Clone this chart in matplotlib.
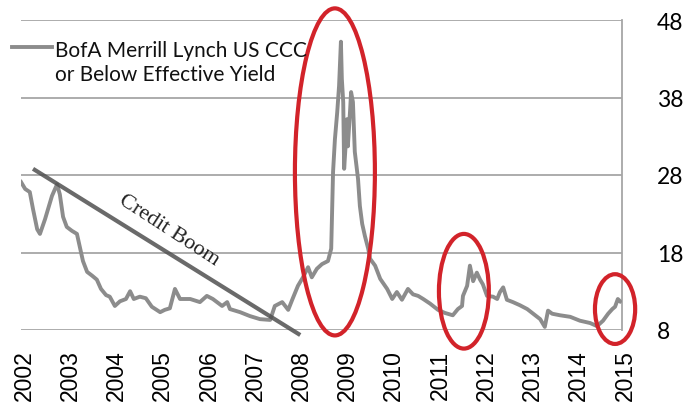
import matplotlib
matplotlib.use("Agg")
import matplotlib.pyplot as plt
from matplotlib.patches import Ellipse
import matplotlib.transforms as mtransforms

# Time (decimal years) and yield values (%)
years = [2002.00, 2002.09, 2002.19, 2002.26, 2002.35, 2002.41, 2002.52, 2002.67, 2002.78, 2002.84,
         2002.91, 2002.99, 2003.10, 2003.21, 2003.28, 2003.34, 2003.43, 2003.54, 2003.64, 2003.73,
         2003.84, 2003.92, 2004.03, 2004.14, 2004.27, 2004.36, 2004.44, 2004.57, 2004.70, 2004.83,
         2005.01, 2005.11, 2005.22, 2005.33, 2005.44, 2005.66, 2005.87, 2006.02, 2006.15, 2006.24,
         2006.35, 2006.46, 2006.52, 2006.74, 2006.95, 2007.17, 2007.39, 2007.49, 2007.65, 2007.78,
         2007.88, 2007.99, 2008.10, 2008.21, 2008.29, 2008.40, 2008.51, 2008.64, 2008.71, 2008.73,
         2008.75, 2008.79, 2008.84, 2008.88, 2008.92, 2008.94, 2008.97, 2008.99, 2009.03, 2009.05,
         2009.07, 2009.12, 2009.14, 2009.18, 2009.22, 2009.29, 2009.33, 2009.38, 2009.44, 2009.51,
         2009.55, 2009.66, 2009.77, 2009.92, 2010.03, 2010.13, 2010.24, 2010.37, 2010.48, 2010.59,
         2010.70, 2010.85, 2011.02, 2011.17, 2011.34, 2011.45, 2011.54, 2011.56, 2011.65, 2011.71,
         2011.78, 2011.86, 2011.93, 2011.99, 2012.08, 2012.21, 2012.30, 2012.36, 2012.43, 2012.51,
         2012.64, 2012.79, 2012.95, 2013.08, 2013.23, 2013.33, 2013.40, 2013.49, 2013.66, 2013.88,
         2014.09, 2014.31, 2014.46, 2014.59, 2014.70, 2014.79, 2014.85, 2014.91, 2014.96]
yields = [27.1, 26.2, 25.8, 23.6, 21.0, 20.4, 22.3, 25.3, 26.8, 25.5,
          22.6, 21.3, 20.8, 20.4, 18.5, 16.9, 15.5, 15.0, 14.5, 13.3,
          12.5, 12.3, 11.1, 11.7, 12.0, 13.0, 12.0, 12.3, 12.1, 11.0,
          10.3, 10.6, 10.8, 13.3, 12.0, 12.0, 11.6, 12.4, 12.0, 11.6,
          11.1, 11.6, 10.7, 10.3, 9.8, 9.4, 9.3, 11.1, 11.6, 10.6,
          12.1, 13.7, 14.8, 16.1, 14.8, 15.9, 16.5, 16.9, 18.5, 23.2,
          28.4, 32.6, 36.1, 39.5, 45.2, 40.4, 37.4, 28.8, 32.6, 35.2,
          31.7, 36.5, 38.7, 37.4, 31.0, 27.5, 24.0, 21.7, 20.1, 18.5,
          17.2, 16.3, 14.6, 13.3, 12.0, 12.9, 11.9, 13.3, 12.6, 12.4,
          12.0, 11.4, 10.6, 10.2, 9.9, 10.7, 11.1, 12.4, 13.7, 16.3,
          14.3, 15.4, 14.5, 13.9, 12.4, 12.3, 12.0, 12.9, 13.5, 11.9,
          11.6, 11.2, 10.7, 10.1, 9.4, 8.4, 10.5, 10.1, 9.9, 9.7,
          9.2, 8.9, 8.5, 9.2, 10.1, 10.7, 11.0, 12.0, 11.7]

x_ticks = list(range(2002, 2016))
y_ticks = [8, 18, 28, 38, 48]
series_label = "BofA Merrill Lynch US CCC\nor Below Effective Yield"
annotation_text = "Credit Boom"
trend_x = [2002.26, 2008.04]
trend_y = [28.8, 7.35]

fig = plt.figure(figsize=(6.91, 4.06), dpi=100)
ax = fig.add_axes([21/691, 1-331/406, (622-21)/691, (331-21)/406])

grid_c = "#a6a6a6"
ax.set_xlim(2002, 2015)
ax.set_ylim(8, 48)
ax.set_yticks(y_ticks)
ax.set_xticks(x_ticks)
for y in y_ticks:
    ax.axhline(y, color=grid_c, lw=1.3, zorder=1)
for s in ["top", "left", "bottom"]:
    ax.spines[s].set_visible(False)
ax.spines["right"].set_color(grid_c)
ax.spines["right"].set_linewidth(1.3)

ax.yaxis.tick_right()
ax.tick_params(axis="y", length=0, pad=25, labelsize=16.5)
for lab in ax.get_yticklabels():
    lab.set_fontfamily("Lato")
ax.tick_params(axis="x", length=0, pad=14, labelsize=16.5, labelrotation=90)
offset = mtransforms.ScaledTranslation(3/100, 0, fig.dpi_scale_trans)
for lab in ax.get_xticklabels():
    lab.set_fontfamily("Liberation Sans")
    lab.set_transform(lab.get_transform() + offset)

ax.plot(years, yields, color="#8c8c8c", lw=2.8, zorder=3, solid_joinstyle="round")

# Credit boom trend line
ax.plot(trend_x, trend_y, color="#505050", lw=3, alpha=0.85, zorder=4,
        clip_on=False, solid_capstyle="butt")
ax.text(2005.2, 20.9, annotation_text, rotation=-33, fontsize=16,
        family="Liberation Serif", ha="center", va="center", color="#222222")

# Red highlight ellipses
red = "#d2232a"
for cx, cy, w, h in [(2008.79, 28.4, 1.73, 42.2), (2011.58, 13.0, 1.08, 14.8),
                     (2014.85, 10.7, 0.87, 9.0)]:
    ax.add_patch(Ellipse((cx, cy), w, h, fill=False, edgecolor=red, lw=3,
                         zorder=5, clip_on=False))

# Legend
fig.lines.append(plt.Line2D([12/691, 52/691], [1-48/406, 1-48/406],
                            color="#8c8c8c", lw=2.8, transform=fig.transFigure))
fig.text(55/691, 1-63/406, series_label, fontsize=15, family="Lato",
         va="center", ha="left", linespacing=1.25, color="#111111")

fig.savefig("out.png", dpi=100)
